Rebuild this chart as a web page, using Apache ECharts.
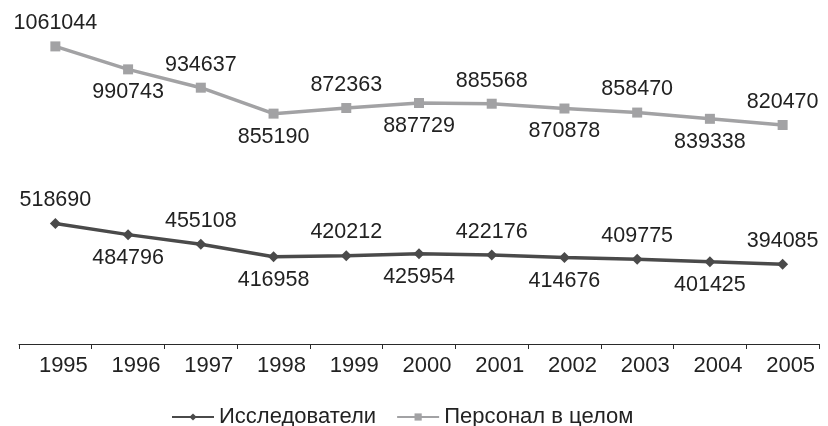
<!DOCTYPE html>
<html><head><meta charset="utf-8">
<script src="https://cdn.jsdelivr.net/npm/echarts@6/dist/echarts.min.js"></script>
<style>html,body{margin:0;padding:0;background:#fff}#c{width:828px;height:426px}</style>
</head><body><div id="c"></div>
<script>
const years = ['1995','1996','1997','1998','1999','2000','2001','2002','2003','2004','2005'];
const researchers = [518690, 484796, 455108, 416958, 420212, 425954, 422176, 414676, 409775, 401425, 394085];
const personnel = [1061044, 990743, 934637, 855190, 872363, 887729, 885568, 870878, 858470, 839338, 820470];
const seriesNames = ['Исследователи', 'Персонал в целом'];

const FONT = 'Liberation Sans';
function withLabels(arr) {
  return arr.map((v, i) => ({
    value: v,
    label: { position: i % 2 === 0 ? 'top' : 'bottom' }
  }));
}
const chart = echarts.init(document.getElementById('c'), null, {renderer: 'canvas'});
chart.setOption({
  animation: false,
  textStyle: { fontFamily: FONT },
  grid: { left: 19, right: 9, top: 1, height: 343 },
  xAxis: {
    type: 'category', data: years, boundaryGap: true,
    axisLine: { lineStyle: { color: '#2a2a2a', width: 1 } },
    axisTick: { show: true, inside: false, length: 5, lineStyle: { color: '#2a2a2a' } },
    axisLabel: { color: '#222', fontSize: 22, fontFamily: FONT, margin: 11, padding: [0, 0, 0, 16] }
  },
  yAxis: {
    type: 'value', min: 150000, max: 1200000, show: false,
    splitLine: { show: false }
  },
  legend: {
    bottom: -7, left: 166, itemWidth: 42, itemHeight: 9, itemGap: 20,
    textStyle: { color: '#222', fontSize: 22, fontFamily: FONT },
    data: seriesNames
  },
  series: [
    {
      name: seriesNames[0], type: 'line', data: withLabels(researchers),
      symbol: 'diamond', symbolSize: 11,
      lineStyle: { color: '#4a4a4a', width: 3.5 },
      itemStyle: { color: '#4a4a4a' },
      label: { show: true, color: '#222', fontSize: 21.5, fontFamily: FONT, distance: 7 }
    },
    {
      name: seriesNames[1], type: 'line', data: withLabels(personnel),
      symbol: 'rect', symbolSize: 10,
      lineStyle: { color: '#a2a2a4', width: 3.5 },
      itemStyle: { color: '#a2a2a4' },
      label: { show: true, color: '#222', fontSize: 21.5, fontFamily: FONT, distance: 7 }
    }
  ]
});
</script></body></html>
